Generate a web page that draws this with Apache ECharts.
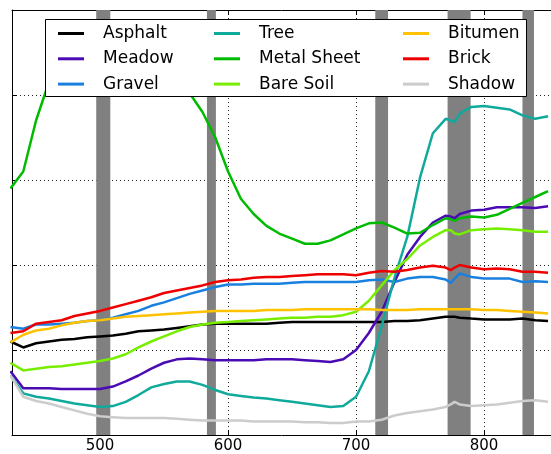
<!DOCTYPE html>
<html>
<head>
<meta charset="utf-8">
<script src="https://cdn.jsdelivr.net/npm/echarts@6/dist/echarts.min.js"></script>
<style>
  html, body { margin: 0; padding: 0; background: #fff; }
  #main { width: 551px; height: 454px; }
</style>
</head>
<body>
<div id="main"></div>
<script>
// wavelengths (nm)
var wavelengths = [430, 440, 450, 460, 470, 480, 490, 500, 510, 520, 530, 540, 550, 560, 570, 580, 590, 600, 610, 620,
  630, 640, 650, 660, 670, 680, 690, 700, 710, 720, 730, 740, 750, 760, 770, 774, 777, 781, 790, 800, 810, 820, 830, 840, 850];

var asphalt = [1.10, 1.03, 1.08, 1.10, 1.12, 1.13, 1.15, 1.16, 1.17, 1.19, 1.22, 1.23, 1.24, 1.26, 1.28, 1.30, 1.31, 1.31, 1.31, 1.31,
  1.31, 1.32, 1.33, 1.33, 1.33, 1.33, 1.33, 1.33, 1.33, 1.33, 1.34, 1.34, 1.35, 1.37, 1.39, 1.39, 1.39, 1.38, 1.37, 1.36, 1.36, 1.36, 1.37, 1.35, 1.34];
var meadow = [0.75, 0.55, 0.55, 0.55, 0.54, 0.54, 0.54, 0.54, 0.57, 0.63, 0.70, 0.78, 0.85, 0.89, 0.90, 0.89, 0.88, 0.88, 0.88, 0.88,
  0.89, 0.89, 0.89, 0.88, 0.87, 0.86, 0.89, 1.00, 1.20, 1.45, 1.80, 2.12, 2.33, 2.50, 2.58, 2.57, 2.55, 2.60, 2.64, 2.65, 2.68, 2.68, 2.68, 2.67, 2.69];
var gravel = [1.27, 1.25, 1.30, 1.30, 1.31, 1.32, 1.34, 1.35, 1.38, 1.42, 1.46, 1.52, 1.56, 1.61, 1.66, 1.70, 1.74, 1.77, 1.77, 1.78,
  1.78, 1.78, 1.79, 1.80, 1.80, 1.80, 1.80, 1.80, 1.82, 1.83, 1.80, 1.84, 1.86, 1.86, 1.83, 1.79, 1.84, 1.90, 1.86, 1.84, 1.84, 1.84, 1.80, 1.81, 1.80];
var tree = [0.70, 0.49, 0.45, 0.43, 0.40, 0.37, 0.35, 0.33, 0.34, 0.39, 0.47, 0.56, 0.60, 0.63, 0.63, 0.59, 0.53, 0.48, 0.46, 0.44,
  0.43, 0.41, 0.39, 0.37, 0.35, 0.33, 0.34, 0.45, 0.75, 1.28, 1.85, 2.33, 3.03, 3.55, 3.72, 3.70, 3.68, 3.78, 3.86, 3.87, 3.85, 3.83, 3.76, 3.72, 3.75];
var metalSheet = [2.90, 3.10, 3.70, 4.15, 4.42, 4.60, 4.70, 4.72, 4.72, 4.70, 4.62, 4.50, 4.35, 4.18, 4.02, 3.80, 3.50, 3.10, 2.78, 2.60,
  2.46, 2.37, 2.31, 2.25, 2.25, 2.29, 2.36, 2.43, 2.49, 2.50, 2.44, 2.37, 2.38, 2.47, 2.55, 2.54, 2.52, 2.55, 2.57, 2.56, 2.59, 2.66, 2.73, 2.80, 2.87];
var bareSoil = [0.85, 0.76, 0.78, 0.80, 0.81, 0.83, 0.85, 0.87, 0.90, 0.95, 1.03, 1.10, 1.16, 1.22, 1.27, 1.30, 1.32, 1.33, 1.34, 1.35,
  1.36, 1.37, 1.38, 1.38, 1.39, 1.39, 1.41, 1.45, 1.58, 1.76, 1.94, 2.07, 2.23, 2.33, 2.41, 2.41, 2.37, 2.36, 2.41, 2.42, 2.43, 2.42, 2.41, 2.39, 2.39];
var bitumen = [1.09, 1.18, 1.23, 1.25, 1.29, 1.32, 1.34, 1.35, 1.37, 1.39, 1.40, 1.41, 1.42, 1.43, 1.44, 1.45, 1.46, 1.46, 1.46, 1.46,
  1.47, 1.47, 1.47, 1.48, 1.48, 1.48, 1.48, 1.48, 1.48, 1.47, 1.47, 1.47, 1.48, 1.48, 1.48, 1.48, 1.48, 1.48, 1.48, 1.47, 1.47, 1.46, 1.45, 1.44, 1.43];
var brick = [1.20, 1.22, 1.31, 1.33, 1.35, 1.40, 1.43, 1.46, 1.50, 1.54, 1.58, 1.62, 1.67, 1.70, 1.73, 1.76, 1.80, 1.82, 1.83, 1.85,
  1.86, 1.86, 1.87, 1.88, 1.89, 1.89, 1.89, 1.88, 1.91, 1.93, 1.92, 1.94, 1.97, 1.99, 1.97, 1.94, 1.97, 2.00, 1.97, 1.95, 1.96, 1.95, 1.92, 1.92, 1.91];
var shadow = [0.70, 0.45, 0.40, 0.37, 0.33, 0.29, 0.25, 0.22, 0.21, 0.20, 0.20, 0.20, 0.20, 0.19, 0.18, 0.17, 0.17, 0.17, 0.17, 0.16,
  0.16, 0.16, 0.16, 0.15, 0.15, 0.14, 0.14, 0.16, 0.16, 0.18, 0.23, 0.26, 0.28, 0.30, 0.33, 0.36, 0.39, 0.36, 0.34, 0.35, 0.36, 0.38, 0.40, 0.41, 0.39];

// gray wavelength bands [from, to]
var bands = [[497, 508], [583.5, 590.5], [715, 725], [771.5, 789.5], [830, 839]];

var names = ['Asphalt', 'Meadow', 'Gravel', 'Tree', 'Metal Sheet', 'Bare Soil', 'Bitumen', 'Brick', 'Shadow'];
var values = [asphalt, meadow, gravel, tree, metalSheet, bareSoil, bitumen, brick, shadow];
var colors = ['#000000', '#4b0bb4', '#1a80e0', '#10aa9c', '#00bb00', '#77ee00', '#ffc200', '#ee0000', '#cccccc'];

var xMin = 431.2, xMax = 852.3;

var myChart = echarts.init(document.getElementById('main'));

var dotted = { color: '#222', width: 1, type: [1, 3] };

var series = [{
  name: 'bands',
  type: 'line',
  data: [],
  z: 1,
  silent: true,
  markArea: {
    silent: true,
    itemStyle: { color: '#808080' },
    data: bands.map(function (b) { return [{ xAxis: b[0] }, { xAxis: b[1] }]; })
  }
}];
names.forEach(function (n, i) {
  series.push({
    name: n,
    type: 'line',
    z: 2,
    symbol: 'none',
    color: colors[i],
    lineStyle: { width: 2.5, color: colors[i] },
    data: wavelengths.map(function (w, k) { return [w, values[i][k]]; })
  });
});

function legendCol(left, data) {
  return {
    orient: 'vertical',
    left: left,
    top: 23.5,
    padding: 0,
    itemGap: 5.3,
    itemWidth: 26,
    itemHeight: 3,
    icon: 'rect',
    z: 4,
    selectedMode: false,
    textStyle: { fontFamily: 'DejaVu Sans', fontSize: 17, color: '#000', lineHeight: 20, padding: [0, 0, 0, 14] },
    data: data
  };
}

option = {
  animation: false,
  backgroundColor: '#fff',
  grid: { left: 12, right: 0, top: 10, bottom: 19 },
  xAxis: [{
    type: 'value',
    min: xMin,
    max: xMax,
    splitNumber: 5,
    axisLine: { lineStyle: { color: '#000', width: 1 } },
    axisTick: { inside: true, length: 5, lineStyle: { color: '#000' } },
    axisLabel: { fontFamily: 'DejaVu Sans', fontSize: 15, color: '#000', margin: 4, showMinLabel: false, showMaxLabel: false },
    splitLine: { show: true, lineStyle: dotted }
  }, {
    type: 'value',
    position: 'top',
    min: xMin,
    max: xMax,
    splitNumber: 5,
    axisLine: { show: true, lineStyle: { color: '#000', width: 1 } },
    axisTick: { inside: true, length: 5, lineStyle: { color: '#000' } },
    axisLabel: { show: false },
    splitLine: { show: false }
  }],
  yAxis: {
    type: 'value',
    min: 0,
    max: 5,
    interval: 1,
    axisLine: { show: true, lineStyle: { color: '#000', width: 1 } },
    axisTick: { show: true, inside: true, length: 5, lineStyle: { color: '#000' } },
    axisLabel: { show: false },
    splitLine: { show: true, lineStyle: dotted }
  },
  graphic: {
    z: 3,
    elements: [{
      type: 'rect',
      z: 3,
      shape: { x: 45.5, y: 19.5, width: 481, height: 77 },
      style: { fill: '#fff', stroke: '#000', lineWidth: 1 }
    }]
  },
  legend: [
    legendCol(58, ['Asphalt', 'Meadow', 'Gravel']),
    legendCol(214, ['Tree', 'Metal Sheet', 'Bare Soil']),
    legendCol(403, ['Bitumen', 'Brick', 'Shadow'])
  ],
  series: series
};

myChart.setOption(option);
</script>
</body>
</html>
